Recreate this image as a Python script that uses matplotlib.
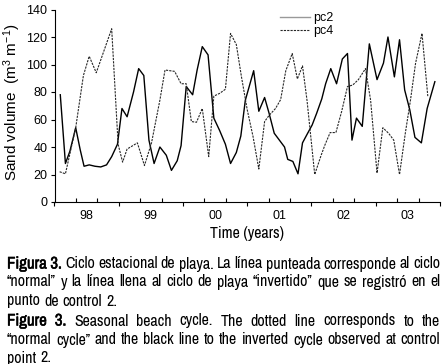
import matplotlib
matplotlib.use('Agg')
import matplotlib.pyplot as plt
import matplotlib.patheffects as pe
from matplotlib import font_manager
import numpy as np

# pc2 (solid) - decimal year, sand volume
pc2_t = [1998.09, 1998.17, 1998.24, 1998.33, 1998.40, 1998.46, 1998.54, 1998.63,
         1998.72, 1998.81, 1998.89, 1998.98, 1999.05, 1999.13, 1999.23, 1999.31,
         1999.39, 1999.47, 1999.55, 1999.64, 1999.74, 1999.82, 1999.91, 1999.97,
         2000.05, 2000.15, 2000.22, 2000.30, 2000.39, 2000.48, 2000.57, 2000.66,
         2000.74, 2000.83, 2000.90, 2000.97, 2001.10, 2001.18, 2001.27, 2001.34,
         2001.42, 2001.50, 2001.58, 2001.63, 2001.71, 2001.79, 2001.86, 2001.94,
         2002.01, 2002.08, 2002.16, 2002.22, 2002.30, 2002.39, 2002.48, 2002.56,
         2002.63, 2002.70, 2002.79, 2002.90, 2003.02, 2003.12, 2003.19, 2003.29,
         2003.37, 2003.45, 2003.53, 2003.61, 2003.71, 2003.80, 2003.92]
pc2_v = [78, 28, 37, 54, 38, 26, 27, 26,
         25.5, 27, 33, 42, 68, 62, 80, 97,
         92, 45, 28, 40, 34, 23, 30, 41,
         84, 78, 96, 113, 107, 61, 52, 42,
         28, 36, 48, 74, 95.5, 66, 76, 64.5,
         50, 45, 40, 31, 29.5, 20.5, 43, 50,
         56, 64.5, 75, 86, 97, 86, 104, 108,
         45, 61, 55, 115, 89, 101, 120, 91,
         118, 81.5, 67, 47, 43, 68, 87.5]

# pc4 (dotted)
pc4_t = [1998.08, 1998.17, 1998.33, 1998.45, 1998.54, 1998.65, 1998.89, 1998.99,
         1999.06, 1999.13, 1999.29, 1999.40, 1999.51, 1999.64, 1999.72, 1999.87,
         1999.97, 2000.05, 2000.13, 2000.21, 2000.30, 2000.40, 2000.48, 2000.57,
         2000.66, 2000.74, 2000.83, 2000.91, 2001.00, 2001.09, 2001.18, 2001.27,
         2001.34, 2001.44, 2001.52, 2001.60, 2001.70, 2001.78, 2001.86, 2001.93,
         2002.05, 2002.15, 2002.21, 2002.29, 2002.38, 2002.47, 2002.56, 2002.64,
         2002.73, 2002.84, 2002.92, 2003.02, 2003.11, 2003.20, 2003.28, 2003.37,
         2003.46, 2003.54, 2003.62, 2003.72, 2003.81]
pc4_v = [22, 20.5, 54, 92, 106, 94, 126, 42,
         29, 38.5, 43, 26.5, 43, 74, 96, 95,
         86, 86, 58.5, 58, 68, 33, 77, 79,
         82, 122.6, 114.5, 91, 67, 47.6, 24, 58.5,
         63, 68, 74.5, 95.5, 108, 89.5, 99, 74,
         20, 34, 41.6, 50.5, 50.5, 66, 84, 85,
         89, 97, 74, 21, 54, 50, 45, 20,
         50, 74, 101, 122.6, 77]

year_labels = ['98', '99', '00', '01', '02', '03']
y_ticks = [0, 20, 40, 60, 80, 100, 120, 140]

caption = [
    ('Figura 3. Ciclo estacional de playa. La línea punteada corresponde al ciclo', True),
    ('\u201cnormal\u201d y la línea llena al ciclo de playa \u201cinvertido\u201d que se registró en el', True),
    ('punto de control 2.', False),
    ('Figure 3. Seasonal beach cycle. The dotted line corresponds to the', True),
    ('\u201cnormal cycle\u201d and the black line to the inverted cycle observed at control', True),
    ('point 2.', False),
]
caption_y = [264, 282, 301, 321, 340, 358]

W, H = 445, 364
plt.rcParams['font.family'] = ['Liberation Sans', 'DejaVu Sans']
plt.rcParams['mathtext.fontset'] = 'custom'
plt.rcParams['mathtext.rm'] = 'Liberation Sans'

installed = set(f.name for f in font_manager.fontManager.ttflist)
narrow = 'Liberation Sans'
for cand in ['Liberation Sans Narrow', 'Archivo Narrow', 'Asap Condensed']:
    if cand in installed:
        narrow = cand
        break
narrow_fam = [narrow, 'DejaVu Sans']

fig = plt.figure(figsize=(W / 100, H / 100), dpi=100)
ax = fig.add_axes([54.5 / W, 1 - 202 / H, 385.5 / W, 192.5 / H])

ax.plot(pc2_t, pc2_v, color='black', lw=1.0, label='pc2')
ax.plot(pc4_t, pc4_v, color='0.15', lw=0.8, ls=(0, (2, 1)), label='pc4')

ax.set_xlim(1998, 2004)
ax.set_ylim(0, 140)
ax.set_yticks(y_ticks)
for s in ['top', 'right']:
    ax.spines[s].set_visible(False)
ax.tick_params(axis='y', labelsize=9, length=3, width=0.8, pad=2)

years = np.arange(1998, 2005)
ax.set_xticks(years)
ax.set_xticklabels([])
ax.set_xticks([y + k / 3 for y in range(1998, 2004) for k in (1, 2)], minor=True)
ax.tick_params(axis='x', which='major', direction='out', length=3, width=0.8)
ax.tick_params(axis='x', which='minor', direction='in', length=3, width=0.8)

sec = ax.secondary_xaxis('bottom')
sec.set_xticks(np.arange(1998, 2004) + 0.5)
sec.set_xticklabels(year_labels)
sec.tick_params(length=0, labelsize=9, pad=6)
sec.spines['bottom'].set_visible(False)

ax.set_ylabel('Sand volume  (m$\\mathregular{^3}$ m$\\mathregular{^{-1}}$)', fontsize=11)
ax.yaxis.set_label_coords(-0.083, 0.52)
ax.set_xlabel('Time (years)', fontsize=11.5, family=narrow_fam)
ax.xaxis.set_label_coords(0.5, -0.125)

leg = ax.legend(loc='upper left', bbox_to_anchor=(0.585, 0.985), frameon=False,
                fontsize=9, handlelength=2.4, handletextpad=0.25,
                labelspacing=0.05, borderpad=0, borderaxespad=0)
leg.get_lines()[0].set_color('0.6')

# caption, justified by hand, one common size for every line
renderer = fig.canvas.get_renderer()
x0, x1 = 7, 440
bold_fx = [pe.withStroke(linewidth=0.4, foreground='black')]


def make_line(line, yp, size):
    words = line.split(' ')
    nb = 2 if line.startswith('Figur') else 0
    objs = []
    for i, w in enumerate(words):
        t = fig.text(0, 1 - yp / H, w, fontsize=size + (0.6 if i < nb else 0),
                     family=narrow_fam, va='center', ha='left')
        if i < nb:
            t.set_path_effects(bold_fx)
        objs.append(t)
    widths = [t.get_window_extent(renderer).width for t in objs]
    return objs, widths


size = 11.5
while size > 6:
    ok = True
    for line, justify in caption:
        objs, widths = make_line(line, 0, size)
        need = sum(widths) + size * 0.25 * (len(widths) - 1)
        for t in objs:
            t.remove()
        if need > x1 - x0:
            ok = False
            break
    if ok:
        break
    size -= 0.1

for (line, justify), yp in zip(caption, caption_y):
    objs, widths = make_line(line, yp, size)
    if justify and len(objs) > 1:
        gap = (x1 - x0 - sum(widths)) / (len(objs) - 1)
    else:
        gap = size * 0.26 * 100 / 72
    x = x0
    for t, w in zip(objs, widths):
        t.set_x(x / W)
        x += w + gap

fig.savefig('out.png', dpi=100)
